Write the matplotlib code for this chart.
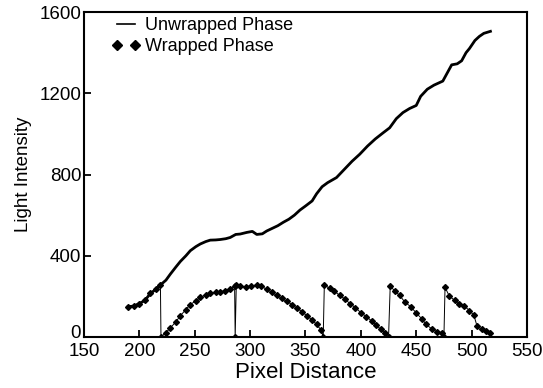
import matplotlib
matplotlib.use("Agg")
import matplotlib.pyplot as plt
import matplotlib.transforms as mtrans
from matplotlib.lines import Line2D

# unwrapped phase
unw_x = [190, 195, 200, 205, 210, 215, 219, 224, 228, 233, 237, 242, 246, 251, 255, 260, 264,
         269, 273, 278, 282, 287, 291, 297, 302, 306, 311, 315, 320, 325, 330, 335, 340,
         345, 350, 356, 360, 365, 370, 378, 385, 392, 399, 406, 413, 420, 426, 432,
         438, 444, 450, 454, 460, 466, 474, 478, 482, 487, 491, 495, 498, 503, 507, 511, 517]
unw_y = [150, 152, 165, 180, 215, 235, 256, 280, 310, 345, 372, 400, 425, 445, 458, 470, 477,
         478, 480, 484, 490, 505, 507, 515, 520, 505, 508, 522, 535, 548, 565, 580, 600,
         625, 645, 670, 705, 740, 760, 785, 825, 865, 900, 940, 975, 1005, 1030, 1075,
         1105, 1125, 1140, 1185, 1220, 1240, 1260, 1300, 1340, 1345, 1360, 1400, 1420, 1460, 1480, 1495, 1505]

# wrapped phase (includes the wrap jumps)
wr_x = [190, 195, 200, 205, 210, 215, 219, 219.5, 224, 228, 233, 237, 242, 246, 251, 255,
        260, 264, 269, 273, 277, 282, 286, 286.5, 287.5, 291, 296, 301, 306, 310, 315,
        320, 324, 329, 333, 338, 342, 347, 351, 356, 360, 364, 366,
        367, 372, 376, 381, 386, 390, 395, 400, 405, 410, 414, 418, 422, 425,
        426.5, 431, 435, 440, 445, 450, 455, 459, 464, 469, 473, 475,
        476, 480, 485, 489, 493, 498, 502, 505, 509, 513, 517]
wr_y = [150, 152, 165, 180, 215, 235, 256, 0, 22, 45, 75, 105, 135, 160, 178, 195,
        208, 218, 220, 222, 228, 238, 250, 0, 255, 250, 248, 252, 256, 250, 235,
        220, 205, 190, 175, 160, 142, 125, 105, 85, 62, 35, 0,
        255, 240, 225, 205, 185, 165, 145, 120, 100, 78, 58, 38, 18, 0,
        250, 225, 205, 170, 150, 118, 90, 62, 40, 25, 22, 0,
        245, 200, 180, 165, 155, 130, 108, 52, 40, 30, 20]

plt.rcParams["font.family"] = ["Liberation Sans", "DejaVu Sans"]

fig = plt.figure(figsize=(5.43, 3.88), dpi=100)
ax = fig.add_axes([0.1547, 0.1314, 0.8158, 0.8376])

ax.plot(unw_x, unw_y, color="black", lw=2.0, solid_joinstyle="round")
ax.plot(wr_x, wr_y, color="black", lw=0.7, marker="D", ms=3.0)

ax.set_xlim(150, 550); ax.set_ylim(0, 1600)
ax.set_xticks(range(150, 551, 50)); ax.set_yticks(range(0, 1601, 400))
ax.tick_params(direction="in", length=5, width=1.3, labelsize=13.5, pad=2)
ax.tick_params(axis="x", pad=4.5)
for s in ax.spines.values():
    s.set_linewidth(1.5)
ax.set_xlabel("Pixel Distance", fontsize=16, labelpad=1)
ax.set_ylabel("Light Intensity", fontsize=13.5, labelpad=5)

# lift the "0" a touch so it clears the "150" below it
lbl0 = ax.get_yticklabels()[0]
lbl0.set_transform(lbl0.get_transform() + mtrans.ScaledTranslation(0, 4 / 72, fig.dpi_scale_trans))

handles = [Line2D([], [], color="black", lw=1.2),
           Line2D([], [], color="black", ls="none", marker="D", ms=5)]
ax.legend(handles, ["Unwrapped Phase", "Wrapped Phase"], loc="upper left", frameon=False,
          fontsize=13, handlelength=1.6, handletextpad=0.25, labelspacing=0.25,
          borderaxespad=0.0, borderpad=0.0, numpoints=2, bbox_to_anchor=(0.062, 0.985))

fig.savefig("out.png", dpi=100)
